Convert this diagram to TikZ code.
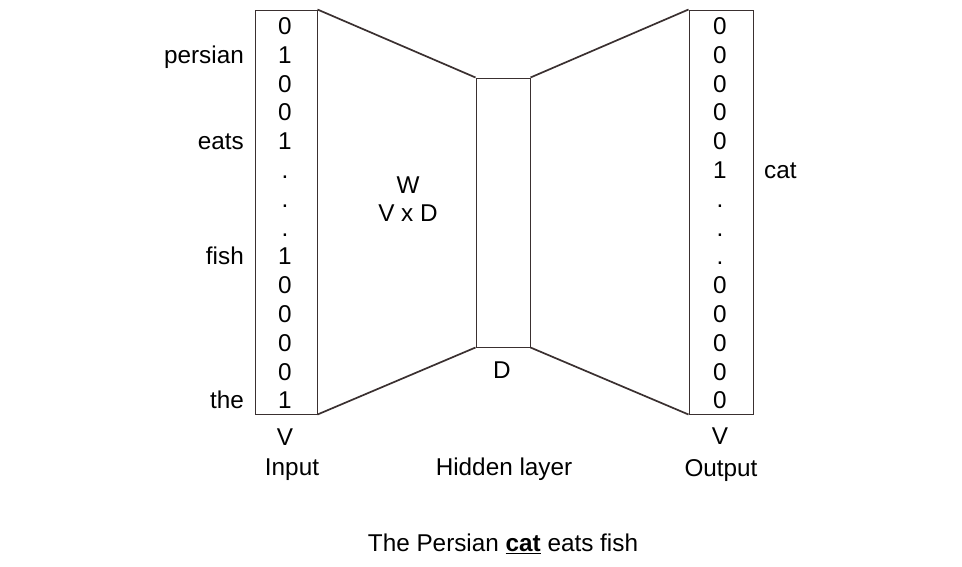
\documentclass[tikz,border=0pt]{standalone}
\usepackage{fontspec}
\setmainfont{Liberation Sans}
\definecolor{lineclr}{RGB}{58,48,48}
\begin{document}
\begin{tikzpicture}[x=1pt,y=-1pt,
  every node/.style={font=\fontsize{24.3}{28}\selectfont, inner sep=0pt, text=black},
  layer/.style={draw=lineclr, line width=1pt, minimum width=#1, inner sep=0pt},
  conn/.style={draw=lineclr, line width=1.7pt},
  cell/.style={anchor=base},
  lbl/.style={anchor=base east},
]
\useasboundingbox (0,0) rectangle (962,566);
% layer boxes
\node[layer=62pt, minimum height=404pt] (inbox) at (286,212) {};
\node[layer=54pt, minimum height=269pt] (hid) at (503,212.5) {};
\node[layer=64pt, minimum height=404pt] (outbox) at (721,212) {};
% connectors
\draw[conn] (inbox.north east) -- (hid.north west);
\draw[conn] (inbox.south east) -- (hid.south west);
\draw[conn] (hid.north east) -- (outbox.north west);
\draw[conn] (hid.south east) -- (outbox.south west);
% input column
\foreach \v [count=\k from 0] in {0,1,0,0,1,.,.,.,1,0,0,0,0,1}
  \node[cell] (in\k) at (285,34.5+28.8*\k) {\v};
% output column
\foreach \v [count=\k from 0] in {0,0,0,0,0,1,.,.,.,0,0,0,0,0}
  \node[cell] (out\k) at (720,34.5+28.8*\k) {\v};
% word labels
\node[lbl] (lpersian) at (244,34.5+28.8*1) {persian};
\node[lbl] (leats) at (244,34.5+28.8*4) {eats};
\node[lbl] (lfish) at (244,34.5+28.8*8) {fish};
\node[lbl] (lthe) at (244,34.5+28.8*13) {the};
\node[anchor=base west] (lcat) at (764,34.5+28.8*5) {cat};
% weights
\node[cell] (w) at (408,193.5) {W};
\node[cell] (vxd) at (408,221.5) {V x D};
\node[cell] (d) at (502,378.5) {D};
% bottom labels
\node[cell] (vin) at (285,445.5) {V};
\node[cell] (vout) at (720,444.5) {V};
\node[cell] (input) at (292,475.5) {Input};
\node[cell] (hidden) at (504,475.5) {Hidden layer};
\node[cell] (output) at (721,476.5) {Output};
\node[cell] (sentence) at (503,551.5) {The Persian \underline{\textbf{cat}} eats fish};
\end{tikzpicture}
\end{document}
